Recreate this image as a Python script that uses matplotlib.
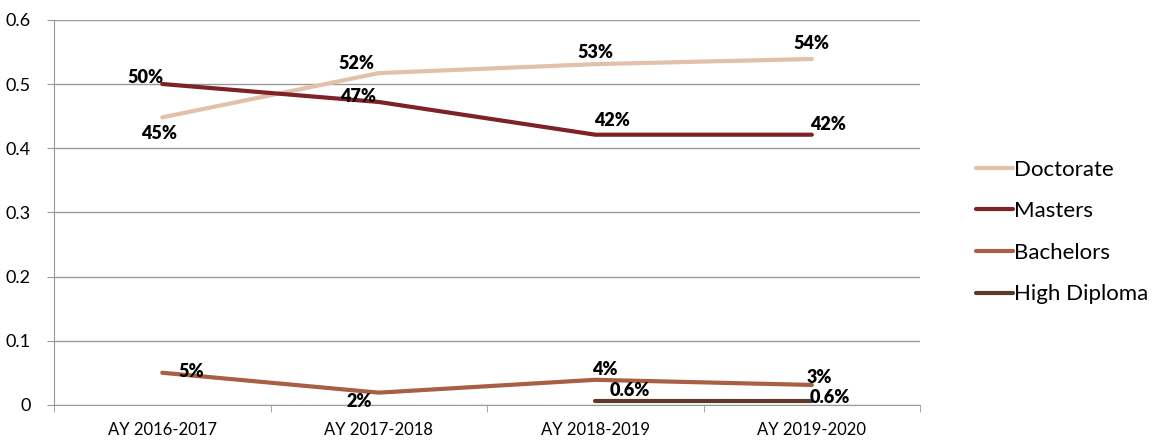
import matplotlib.pyplot as plt
import numpy as np

years = ['AY 2016-2017', 'AY 2017-2018', 'AY 2018-2019', 'AY 2019-2020']
doctorate = [0.448, 0.517, 0.531, 0.539]
masters = [0.50, 0.472, 0.421, 0.421]
bachelors = [0.05, 0.019, 0.039, 0.031]
high_diploma = [np.nan, np.nan, 0.006, 0.006]

doctorate_lbl = ['45%', '52%', '53%', '54%']
masters_lbl = ['50%', '47%', '42%', '42%']
bachelors_lbl = ['5%', '2%', '4%', '3%']
high_diploma_lbl = ['', '', '0.6%', '0.6%']

plt.rcParams['font.family'] = ['Lato', 'DejaVu Sans']

fig = plt.figure(figsize=(11.61, 4.41), dpi=100)
ax = fig.add_axes([0.0465, 0.082, 0.746, 0.873])

x = np.arange(len(years))
series = [
    ('Doctorate', doctorate, doctorate_lbl, '#E2C1AA'),
    ('Masters', masters, masters_lbl, '#7E2227'),
    ('Bachelors', bachelors, bachelors_lbl, '#A95F43'),
    ('High Diploma', high_diploma, high_diploma_lbl, '#5E3A2A'),
]
for name, vals, _, col in series:
    ax.plot(x, vals, color=col, lw=3, label=name, solid_capstyle='round')

# label offsets in pixels (dx, dy), y up
offsets = {
    'Doctorate': [(-3, -16), (-22, 10), (0, 12), (0, 15)],
    'Masters': [(-17, 7), (-21, 5), (17, 14), (16, 10)],
    'Bachelors': [(29, 1), (-20, -9), (10, 10), (8, 7)],
    'High Diploma': [(0, 0), (0, 0), (35, 10), (18, 3)],
}
for name, vals, lbls, col in series:
    for i, (v, t) in enumerate(zip(vals, lbls)):
        if not t:
            continue
        dx, dy = offsets[name][i]
        ax.annotate(t, (x[i], v), xytext=(dx, dy), textcoords='offset pixels',
                    ha='center', va='center', fontsize=13, fontweight='heavy')

ax.set_xlim(-0.5, 3.5)
ax.set_ylim(0, 0.6)
ax.set_yticks(np.arange(0, 0.61, 0.1))
ax.set_yticklabels(['0', '0.1', '0.2', '0.3', '0.4', '0.5', '0.6'])
ax.set_xticks(x)
ax.set_xticklabels(years)
ax.set_xticks(np.arange(-0.5, 3.6, 1), minor=True)
ax.tick_params(axis='x', which='major', length=0, pad=12, labelsize=12)
ax.tick_params(axis='x', which='minor', length=5, color='#999999')
ax.tick_params(axis='y', length=5, color='#999999', labelsize=13, pad=12)
ax.grid(axis='y', color='#999999', lw=1)
ax.set_axisbelow(True)
for s in ['top', 'right']:
    ax.spines[s].set_visible(False)
for s in ['left', 'bottom']:
    ax.spines[s].set_color('#999999')

leg = fig.legend(loc='center left', bbox_to_anchor=(0.823, 0.474), frameon=False,
                 fontsize=16, handlelength=1.7, handletextpad=0.02, labelspacing=0.97)

plt.savefig('out.png', dpi=100)
